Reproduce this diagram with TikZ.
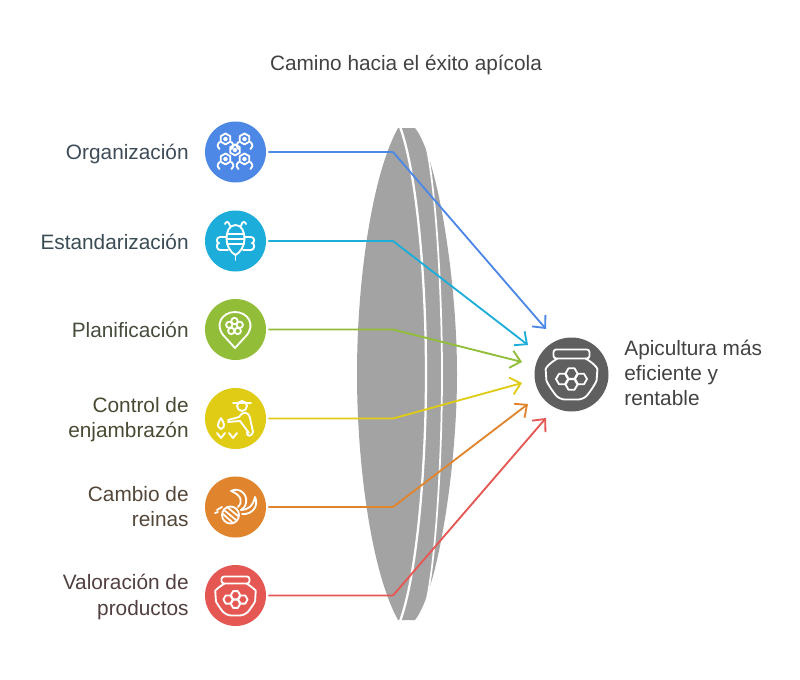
\documentclass[tikz,border=0pt]{standalone}
\usepackage{fontspec}
\setmainfont{Liberation Sans}
\usetikzlibrary{calc,arrows.meta}

\definecolor{cblue}{HTML}{4E88E7}
\definecolor{ccyan}{HTML}{1CADDA}
\definecolor{cgreen}{HTML}{92BD39}
\definecolor{cyellow}{HTML}{E0CB15}
\definecolor{corange}{HTML}{E0852D}
\definecolor{cred}{HTML}{E55753}
\definecolor{cdark}{HTML}{5F5F5F}
\definecolor{clens}{HTML}{A3A3A3}
\definecolor{tblue}{HTML}{3E4C59}
\definecolor{tcyan}{HTML}{3A4C54}
\definecolor{tgreen}{HTML}{464D3C}
\definecolor{tyellow}{HTML}{4A4A33}
\definecolor{torange}{HTML}{54473A}
\definecolor{tred}{HTML}{523F3F}
\definecolor{tgrey}{HTML}{424242}

\newcommand{\unitpx}{*0.02cm}
\tikzset{
  disc/.style={circle,minimum size=61\unitpx,inner sep=0pt},
  label/.style={align=right,anchor=east,inner sep=0pt,font=\fontsize{11.85}{14.3}\selectfont},
  link/.style={line width=1.05pt,-{Straight Barb[length=5.5pt,width=10pt]},rounded corners=0.5pt},
  icon/.style={white,line width=1.05pt,line cap=round,line join=round},
}
\newcommand{\hexnut}[2]{% small hexagon with a dot
  \draw[icon] (#1,#2-5.5) -- ++(4.8,2.7) -- ++(0,5.5) -- ++(-4.8,2.7) -- ++(-4.8,-2.7) -- ++(0,-5.5) -- cycle;
  \draw[icon] (#1,#2) circle (1.5);
}
\newcommand{\hexarms}[2]{% the nut with two hands under it
  \hexnut{#1}{#2}
  \draw[icon] (#1-6,#2+3) .. controls (#1-9,#2+6) and (#1-8,#2+9) .. (#1-6,#2+10);
  \draw[icon] (#1+6,#2+3) .. controls (#1+9,#2+6) and (#1+8,#2+9) .. (#1+6,#2+10);
}
\newcommand{\comb}[3]{% honeycomb cell
  \draw[icon] (#1-#3,#2) -- ++(#3/2,-#3*0.87) -- ++(#3,0) -- ++(#3/2,#3*0.87) -- ++(-#3/2,#3*0.87) -- ++(-#3,0) -- cycle;
}
\newcommand{\jar}[3]{% jar of honey, #3 is its scale
  \begin{scope}[shift={(#1,#2)},scale=#3]
    \draw[icon,rounded corners=1.5] (-18,-25) rectangle (18,-16);
    \draw[icon,rounded corners=3] (-14,-16) .. controls (-21,-12) and (-26,-7) .. (-25.5,0)
      .. controls (-25,8) and (-18,18) .. (-12,25) -- (12,25)
      .. controls (18,18) and (25,8) .. (25.5,0) .. controls (26,-7) and (21,-12) .. (14,-16);
    \comb{0}{-1}{6}
    \comb{-9.5}{4.5}{6}
    \comb{9.5}{4.5}{6}
    \comb{0}{10}{6}
  \end{scope}
}

\begin{document}
\begin{tikzpicture}[x=0.02cm,y=-0.02cm]
    \useasboundingbox (0,0) rectangle (800,679);
    \fill[white] (0,0) rectangle (800,679);

    % Title
    \node[font=\fontsize{11.85}{14}\selectfont,text=tgrey] (title) at (406,65) {Camino hacia el éxito apícola};

    % Lens
    \fill[clens] (398,128) .. controls (372,175) and (357,280) .. (357,374) .. controls (357,468) and (372,573) .. (398,620)
      -- (415,620) .. controls (437,593) and (457,470) .. (457,374) .. controls (457,278) and (437,155) .. (415,128) -- cycle;
    \draw[white,line width=1.3pt] (399,124) .. controls (417,170) and (426,280) .. (426,374) .. controls (426,468) and (417,578) .. (399,624);
    \draw[white,line width=1pt] (427,149) .. controls (437,200) and (442,300) .. (442,374) .. controls (442,448) and (437,548) .. (427,599);

    % Circles
    \node[disc,fill=cblue] (orga) at (235.5,152) {};
    \node[disc,fill=ccyan] (esta) at (235.5,241) {};
    \node[disc,fill=cgreen] (plan) at (235.5,329.5) {};
    \node[disc,fill=cyellow] (ctrl) at (235.5,418.5) {};
    \node[disc,fill=corange] (camb) at (235.5,507) {};
    \node[disc,fill=cred] (valo) at (235.5,595.5) {};
    \node[circle,minimum size=74\unitpx,inner sep=0pt,fill=cdark] (api) at (571.5,374.5) {};

    % Labels
    \node[label,text=tblue] (lorga) at (189,154) {Organización};
    \node[label,text=tcyan] (lesta) at (189,241.5) {Estandarización};
    \node[label,text=tgreen] (lplan) at (189,330) {Planificación};
    \node[label,text=tyellow] (lctrl) at (189,419.5) {Control de\\enjambrazón};
    \node[label,text=torange] (lcamb) at (189,506.5) {Cambio de\\reinas};
    \node[label,text=tred] (lvalo) at (189,597) {Valoración de\\productos};
    \node[label,align=left,anchor=west,text=tgrey] (lapi) at (624,373) {Apicultura más\\eficiente y\\rentable};

    % Arrow ends
    \coordinate (e1) at (546,329);
    \coordinate (e2) at (528,345);
    \coordinate (e3) at (522,362);
    \coordinate (e4) at (522,383);
    \coordinate (e5) at (528,404);
    \coordinate (e6) at (546,418);

    \draw[link,cblue] (orga.east) ++(2,0) -- (393,152) -- (e1);
    \draw[link,ccyan] (esta.east) ++(2,0) -- (393,241) -- (e2);
    \draw[link,cgreen] (plan.east) ++(2,0) -- (393,329.5) -- (e3);
    \draw[link,cyellow] (ctrl.east) ++(2,0) -- (393,418.5) -- (e4);
    \draw[link,corange] (camb.east) ++(2,0) -- (393,507) -- (e5);
    \draw[link,cred] (valo.east) ++(2,0) -- (393,595.5) -- (e6);

    % Icon: organization
    \hexarms{225.5}{139}
    \hexarms{244.5}{139}
    \hexnut{235}{150}
    \hexarms{225.5}{159}
    \hexarms{244.5}{159}

    % Icon: bee
    \draw[icon] (235.5,225) .. controls (229,225) and (226.5,232) .. (226.5,239) .. controls (226.5,246) and (231,253) .. (235.5,255)
      .. controls (240,253) and (244.5,246) .. (244.5,239) .. controls (244.5,232) and (242,225) .. (235.5,225);
    \draw[icon] (227,234) -- (244,234) (226.5,239) -- (244.5,239) (227,244) -- (244,244);
    \draw[icon] (235.5,255) -- (235.5,260);
    \draw[icon] (230,226) .. controls (229,221) and (226,221) .. (225,224);
    \draw[icon] (241,226) .. controls (242,221) and (245,221) .. (246,224);
    \draw[icon] (226.5,237) -- (220,237) .. controls (216,237) and (216,243) .. (219,243) .. controls (216,243) and (216,250) .. (220,250) -- (228,250);
    \draw[icon] (244.5,237) -- (251,237) .. controls (255,237) and (255,243) .. (252,243) .. controls (255,243) and (255,250) .. (251,250) -- (243,250);

    % Icon: flower in a pin
    \draw[icon] (235,348) -- (224,336) .. controls (214,325) and (222,312) .. (235,312)
      .. controls (248,312) and (256,325) .. (246,336) -- cycle;
    \foreach \a in {270,342,54,126,198}
      \draw[icon] ($(234.5,326.5)+(\a:5.5)$) circle (3.2);

    % Icon: swarm control
    \draw[icon] (233,403) -- (251,403);
    \draw[icon] (242,406) circle (5);
    \draw[icon] (228,420) -- (239,417) .. controls (243,411) and (248,411) .. (250,418) -- (253,432)
      .. controls (252,437) and (246,437) .. (247,432);
    \draw[icon] (228,422) -- (240,421) -- (249,433);
    \draw[icon] (221,418) .. controls (218,423) and (216,427) .. (221,429) .. controls (226,427) and (224,423) .. (221,418);
    \draw[icon] (217,433) -- (221,438) -- (225,433) (229,433) -- (233,438) -- (237,433);

    % Icon: queen
    \draw[icon] (230.5,515) circle (8.5);
    \draw[icon] (224,510) -- (236,520) (223,514) -- (232,522) (227,507) -- (238,516);
    \draw[icon] (217,510) -- (222,507) (215,513) -- (218,512);
    \draw[icon] (238,507) .. controls (243,503) and (242,495) .. (231,491) .. controls (238,487) and (248,493) .. (246,503) .. controls (245,507) and (243,509) .. (241,510);
    \draw[icon] (241,510) .. controls (248,510) and (253,506) .. (255,497) .. controls (259,505) and (253,515) .. (242,514);

    % Icons: jars
    \jar{235.5}{596}{0.78}
    \jar{571.5}{374.5}{1}
\end{tikzpicture}
\end{document}
